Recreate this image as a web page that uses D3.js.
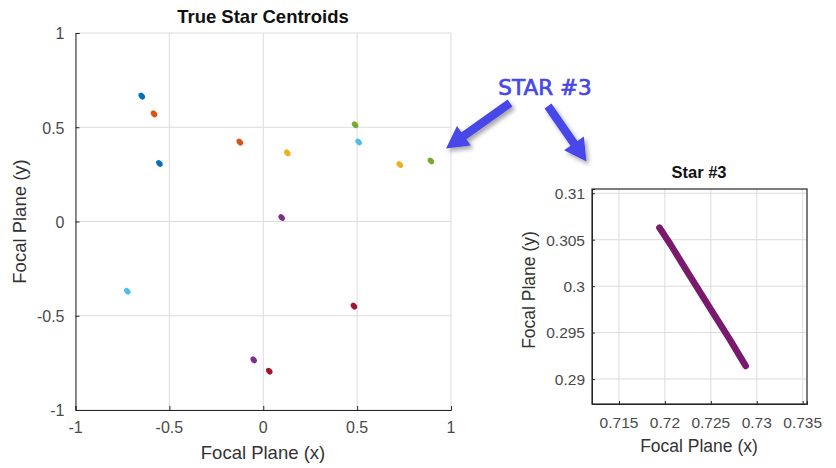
<!DOCTYPE html>
<html>
<head>
<meta charset="utf-8">
<script src="https://cdn.jsdelivr.net/npm/d3@7"></script>
<style>
  html, body { margin: 0; padding: 0; background: #fff; }
  svg { display: block; }
  text { font-family: "Liberation Sans", Arial, Helvetica, sans-serif; }
  text.callout { font-family: "DejaVu Sans", Verdana, sans-serif; }
</style>
</head>
<body>
<svg id="chart" width="836" height="468"></svg>
<script>
// Star centroid positions on the focal plane (all 14 stars)
const starX = [-0.647, -0.582, -0.553, -0.125, 0.128, 0.098, 0.489, 0.508, 0.727, 0.893, -0.724, 0.483, -0.051, 0.032];
const starY = [0.665, 0.571, 0.308, 0.421, 0.364, 0.021, 0.513, 0.422, 0.302, 0.321, -0.370, -0.449, -0.734, -0.794];
// MATLAB default colour order, cycled over the stars
const colorOrder = ["#0072BD", "#D95319", "#0072BD", "#D95319", "#EDB120", "#7E2F8E", "#77AC30",
                    "#4DBEEE", "#EDB120", "#77AC30", "#4DBEEE", "#A2142F", "#7E2F8E", "#A2142F"];

// Centroid track of star #3 over time
const trackX = [0.7194, 0.7206, 0.7224, 0.7248, 0.7271, 0.7288];
const trackY = [0.3063, 0.3045, 0.3016, 0.2978, 0.2942, 0.2914];

// Tick values
const mainTicks = [-1, -0.5, 0, 0.5, 1];
const zoomXTicks = [0.715, 0.72, 0.725, 0.73, 0.735];
const zoomYTicks = [0.29, 0.295, 0.3, 0.305, 0.31];

const svg = d3.select("#chart");
const gridColor = "#dcdcdc";
const axisColor = "#262626";
const tickText = "#4a4a4a";
const fmt = d => String(d);   // plain hyphen-minus, as MATLAB prints it

// shadow filter for the annotation arrows
const defs = svg.append("defs");
const f = defs.append("filter").attr("id", "shadow").attr("x", "-50%").attr("y", "-50%").attr("width", "200%").attr("height", "200%");
f.append("feDropShadow").attr("dx", 2.5).attr("dy", 3).attr("stdDeviation", 2.2)
  .attr("flood-color", "#000").attr("flood-opacity", 0.35);

// ---------- main panel ----------
const mx = d3.scaleLinear().domain([-1, 1]).range([75.5, 451]);
const my = d3.scaleLinear().domain([-1, 1]).range([410, 33]);
const main = svg.append("g");

main.append("g").selectAll("line").data(mainTicks).join("line")
  .attr("x1", d => mx(d)).attr("x2", d => mx(d)).attr("y1", my(-1)).attr("y2", my(1))
  .attr("stroke", gridColor).attr("stroke-width", 1);
main.append("g").selectAll("line").data(mainTicks).join("line")
  .attr("x1", mx(-1)).attr("x2", mx(1)).attr("y1", d => my(d)).attr("y2", d => my(d))
  .attr("stroke", gridColor).attr("stroke-width", 1);

// left and bottom axes, ticks pointing inward
const yAxis = d3.axisRight(my).tickValues(mainTicks).tickSize(4).tickFormat("");
const xAxis = d3.axisTop(mx).tickValues(mainTicks).tickSize(4).tickFormat("");
main.append("g").attr("transform", `translate(${mx(-1)},0)`).call(yAxis)
  .call(g => g.selectAll("path,line").attr("stroke", axisColor));
main.append("g").attr("transform", `translate(0,${my(-1)})`).call(xAxis)
  .call(g => g.selectAll("path,line").attr("stroke", axisColor));

main.append("g").selectAll("text").data(mainTicks).join("text")
  .attr("x", d => mx(d)).attr("y", my(-1) + 23)
  .attr("text-anchor", "middle").attr("font-size", 16).attr("fill", tickText)
  .text(fmt);
main.append("g").selectAll("text").data(mainTicks).join("text")
  .attr("x", mx(-1) - 11).attr("y", d => my(d)).attr("dy", "0.4em")
  .attr("text-anchor", "end").attr("font-size", 16).attr("fill", tickText)
  .text(fmt);

// star centroids
main.append("g").selectAll("ellipse").data(starX.map((x, i) => ({x, y: starY[i], c: colorOrder[i]}))).join("ellipse")
  .attr("transform", d => `translate(${mx(d.x)},${my(d.y)}) rotate(50)`)
  .attr("rx", 3.7).attr("ry", 2.8).attr("fill", d => d.c);

main.append("text").attr("x", 263).attr("y", 23).attr("text-anchor", "middle")
  .attr("font-size", 18.5).attr("font-weight", "bold").attr("fill", "#111").text("True Star Centroids");
main.append("text").attr("x", 263).attr("y", 459).attr("text-anchor", "middle")
  .attr("font-size", 18.5).attr("fill", "#333").text("Focal Plane (x)");
main.append("text").attr("transform", "translate(26,221.5) rotate(-90)").attr("text-anchor", "middle")
  .attr("font-size", 18.5).attr("fill", "#333").text("Focal Plane (y)");

// ---------- zoomed panel: star #3 ----------
const zx = d3.scaleLinear().domain([0.71206, 0.73547]).range([592, 807]);
const zy = d3.scaleLinear().domain([0.28731, 0.31046]).range([404, 189]);
const zoom = svg.append("g");

zoom.append("g").selectAll("line").data(zoomXTicks).join("line")
  .attr("x1", d => zx(d)).attr("x2", d => zx(d)).attr("y1", zy.range()[0]).attr("y2", zy.range()[1])
  .attr("stroke", gridColor);
zoom.append("g").selectAll("line").data(zoomYTicks).join("line")
  .attr("x1", zx.range()[0]).attr("x2", zx.range()[1]).attr("y1", d => zy(d)).attr("y2", d => zy(d))
  .attr("stroke", gridColor);

zoom.append("g").attr("transform", `translate(${zx.range()[0]},0)`)
  .call(d3.axisRight(zy).tickValues(zoomYTicks).tickSize(3).tickFormat(""))
  .call(g => g.selectAll("path,line").attr("stroke", axisColor));
zoom.append("g").attr("transform", `translate(0,${zy.range()[0]})`)
  .call(d3.axisTop(zx).tickValues(zoomXTicks).tickSize(3).tickFormat(""))
  .call(g => g.selectAll("path,line").attr("stroke", axisColor));
zoom.append("rect").attr("x", 592).attr("y", 189).attr("width", 215).attr("height", 215)
  .attr("fill", "none").attr("stroke", axisColor).attr("stroke-width", 1.2);

zoom.append("g").selectAll("text").data(zoomXTicks).join("text")
  .attr("x", d => zx(d)).attr("y", zy.range()[0] + 24)
  .attr("text-anchor", "middle").attr("font-size", 15.5).attr("fill", tickText)
  .text(fmt);
zoom.append("g").selectAll("text").data(zoomYTicks).join("text")
  .attr("x", zx.range()[0] - 7).attr("y", d => zy(d)).attr("dy", "0.38em")
  .attr("text-anchor", "end").attr("font-size", 15.5).attr("fill", tickText)
  .text(fmt);

zoom.append("path")
  .datum(trackX.map((x, i) => [x, trackY[i]]))
  .attr("d", d3.line().x(d => zx(d[0])).y(d => zy(d[1])))
  .attr("fill", "none").attr("stroke", "#7a1a6c").attr("stroke-width", 6.5)
  .attr("stroke-linecap", "round").attr("stroke-linejoin", "round");

zoom.append("text").attr("x", 699).attr("y", 178).attr("text-anchor", "middle")
  .attr("font-size", 16.5).attr("font-weight", "bold").attr("fill", "#111").text("Star #3");
zoom.append("text").attr("x", 699).attr("y", 452).attr("text-anchor", "middle")
  .attr("font-size", 17.5).attr("fill", "#333").text("Focal Plane (x)");
zoom.append("text").attr("transform", "translate(535,290) rotate(-90)").attr("text-anchor", "middle")
  .attr("font-size", 17.5).attr("fill", "#333").text("Focal Plane (y)");

// ---------- annotation ----------
const blue = "#4646ea";
svg.append("text").attr("class", "callout").attr("x", 545).attr("y", 94.5).attr("text-anchor", "middle")
  .attr("font-size", 21.5).attr("fill", blue).attr("stroke", blue).attr("stroke-width", 0.7)
  .text("STAR #3");

// block arrow from tail to tip
function arrowPath(x0, y0, x1, y1) {
  const dx = x1 - x0, dy = y1 - y0, L = Math.hypot(dx, dy);
  const ux = dx / L, uy = dy / L, px = -uy, py = ux;
  const sw = 4.2, hw = 12, hl = 22;
  const bx = x1 - ux * hl, by = y1 - uy * hl;
  const pts = [
    [x0 + px * sw, y0 + py * sw], [bx + px * sw, by + py * sw], [bx + px * hw, by + py * hw],
    [x1, y1], [bx - px * hw, by - py * hw], [bx - px * sw, by - py * sw], [x0 - px * sw, y0 - py * sw]
  ];
  return "M" + pts.map(p => p.join(",")).join("L") + "Z";
}
const arrows = svg.append("g").attr("filter", "url(#shadow)");
arrows.append("path").attr("d", arrowPath(510, 103, 446, 148.5)).attr("fill", blue);
arrows.append("path").attr("d", arrowPath(548, 106, 586.5, 161.5)).attr("fill", blue);
</script>
</body>
</html>
